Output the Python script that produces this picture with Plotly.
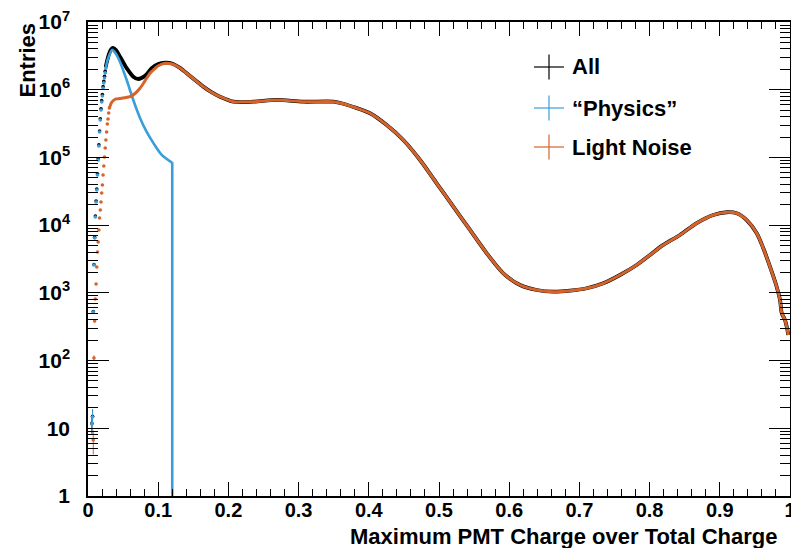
import plotly.graph_objects as go

# ---------------- data ----------------
# Fraction of the total charge carried by the brightest PMT (bin centres, bin width 0.001)

# "Physics": sparse rising edge (individual bins) and the dense body
phys_edge_x = [0.0055, 0.0065, 0.0075, 0.0085, 0.0095, 0.0105, 0.0115, 0.0125, 0.0135, 0.0145,
               0.0155, 0.0165, 0.0175, 0.0185, 0.0195, 0.0205, 0.0215, 0.0225, 0.0235, 0.0245, 0.0255]
phys_edge_y = [11.6, 14.7, 522, 2580, 6460, 13200, 22000, 33000, 55000, 91600,
               147600, 237700, 357500, 502000, 659000, 809000, 1.06e6, 1.26e6, 1.49e6, 1.77e6, 2.10e6]
phys_edge_err = [3.4, 3.8, 22.8, 50.8, 80, 115, 148, 182, 235, 303,
                 384, 488, 598, 708, 812, 899, 1030, 1122, 1221, 1330, 1449]
phys_body_x = [0.0255, 0.0271, 0.0299, 0.0342, 0.0399, 0.0456, 0.0551, 0.0645, 0.0741,
               0.0836, 0.0930, 0.1050, 0.1195]
phys_body_y = [2.10e6, 2.57e6, 3.15e6, 3.87e6, 3.37e6, 2.57e6, 1.39e6, 7.06e5, 3.83e5,
               2.38e5, 1.64e5, 1.09e5, 8.4e4]
# last filled bin, then the histogram is empty above 0.12 (drawn down to the axis floor)
phys_step_x = [0.1195, 0.1200, 0.1200]
phys_step_y = [8.4e4, 8.3e4, 0.1]

# "Light Noise"
noise_edge_x = [0.0075, 0.0085, 0.0095, 0.0105, 0.0115, 0.0125, 0.0135, 0.0145, 0.0155, 0.0165,
                0.0175, 0.0185, 0.0195, 0.0205, 0.0215, 0.0225, 0.0235, 0.0245, 0.0255, 0.0265,
                0.0275, 0.0285, 0.0295, 0.0305]
noise_edge_y = [6.7, 109, 384, 811, 1352, 2410, 4016, 5640, 8490, 12760,
                16750, 21980, 29850, 39170, 55050, 74800, 101600, 138000, 181000, 237700,
                311900, 369600, 453300, 537600]
noise_edge_err = [2.6, 10.4, 19.6, 28.5, 36.8, 49, 63, 75, 92, 113,
                  129, 148, 173, 198, 235, 273, 319, 371, 425, 488,
                  558, 608, 673, 733]
noise_body_x = [0.0305, 0.0342, 0.0399, 0.0456, 0.0520, 0.0598, 0.0670, 0.0741, 0.0812,
                0.0883, 0.0940, 0.0997, 0.1097, 0.1197]
noise_body_y = [5.38e5, 6.6e5, 7.3e5, 7.4e5, 7.6e5, 7.9e5, 8.8e5, 1.05e6, 1.35e6,
                1.75e6, 2.0e6, 2.24e6, 2.46e6, 2.40e6]

# Above 0.12 the "Physics" sample is empty, so All and Light Noise share this tail
tail_x = [0.131, 0.1406, 0.1524, 0.1642, 0.1752, 0.188, 0.207, 0.2355, 0.2688, 0.3067,
          0.3494, 0.3637, 0.378, 0.4017, 0.4255, 0.4491, 0.473, 0.4967, 0.5204, 0.5442,
          0.568, 0.5916, 0.6154, 0.6392, 0.6628, 0.6866, 0.7104, 0.734, 0.7578, 0.7816,
          0.8006, 0.8195, 0.8433, 0.8671, 0.8907, 0.9098, 0.9241, 0.9383, 0.9526, 0.962,
          0.9715, 0.981, 0.9858, 0.9882, 0.9929, 0.9953, 0.9976]
tail_y = [2.10e6, 1.75e6, 1.39e6, 1.11e6, 9.27e5, 7.89e5, 6.65e5, 6.65e5, 7.06e5, 6.65e5,
          6.65e5, 6.2e5, 5.56e5, 4.49e5, 3.01e5, 1.81e5, 9.17e4, 4.15e4, 1.88e4, 8490,
          3837, 1944, 1306, 1102, 1041, 1077, 1169, 1385, 1837, 2580,
          3625, 5100, 7160, 1.07e4, 1.41e4, 1.55e4, 1.50e4, 1.19e4, 7590, 4550,
          2438, 1233, 785, 505, 395, 317, 239]

# "All"
all_edge_x = phys_edge_x
all_edge_y = [11.8, 15.0, 530, 2620, 6600, 13600, 22700, 34200, 57200, 95500,
              153000, 246000, 371000, 522000, 690000, 850000, 1.11e6, 1.33e6, 1.58e6, 1.88e6, 2.22e6]
all_edge_err = [3.4, 3.9, 23, 51, 81, 117, 151, 185, 239, 309,
                391, 496, 609, 722, 831, 922, 1054, 1153, 1257, 1371, 1490]
all_body_x = [0.0255, 0.0271, 0.0299, 0.0328, 0.0356, 0.0399, 0.0456, 0.0551, 0.0645, 0.0717,
              0.0812, 0.0907, 0.1001, 0.1097, 0.1197]
all_body_y = [2.22e6, 2.66e6, 3.37e6, 3.93e6, 4.13e6, 3.86e6, 3.08e6, 2.08e6, 1.56e6, 1.44e6,
              1.60e6, 2.08e6, 2.40e6, 2.51e6, 2.44e6]

series_names = ["All", "\u201cPhysics\u201d", "Light Noise"]
series_colors = ["#000000", "#3a9ed8", "#d5642c"]

x_ticks = [0, 0.1, 0.2, 0.3, 0.4, 0.5, 0.6, 0.7, 0.8, 0.9, 1]
x_ticktext = ["0", "0.1", "0.2", "0.3", "0.4", "0.5", "0.6", "0.7", "0.8", "0.9", "1"]
y_ticks = [1, 10, 1e2, 1e3, 1e4, 1e5, 1e6, 1e7]
y_ticktext = ["1", "10", "10<sup>2</sup>", "10<sup>3</sup>", "10<sup>4</sup>",
              "10<sup>5</sup>", "10<sup>6</sup>", "10<sup>7</sup>"]

# ---------------- figure ----------------
W, H = 791, 548
ML, MR, MT, MB = 88, 1, 22, 52
PW, PH = W - ML - MR, H - MT - MB

def px_x(p):
    return (p - ML) / PW

def px_y(p):
    return (H - MB - p) / PH

FONT = "Liberation Sans, Arial, Helvetica, sans-serif"

fig = go.Figure()

def add_series(edge_x, edge_y, edge_err, body_x, body_y, color, lw):
    fig.add_trace(go.Scatter(x=body_x, y=body_y, mode="lines",
                             line=dict(color=color, width=lw, shape="spline", smoothing=0.8),
                             hoverinfo="skip"))
    fig.add_trace(go.Scatter(x=edge_x, y=edge_y, mode="markers",
                             marker=dict(color=color, size=3.6),
                             error_y=dict(type="data", array=edge_err, color=color,
                                          thickness=1, width=0),
                             hoverinfo="skip"))

add_series(all_edge_x, all_edge_y, all_edge_err, all_body_x + tail_x, all_body_y + tail_y,
           series_colors[0], 3.8)
add_series(phys_edge_x, phys_edge_y, phys_edge_err, phys_body_x, phys_body_y,
           series_colors[1], 2.6)
fig.add_trace(go.Scatter(x=phys_step_x, y=phys_step_y, mode="lines",
                         line=dict(color=series_colors[1], width=2.6), hoverinfo="skip"))
add_series(noise_edge_x, noise_edge_y, noise_edge_err, noise_body_x + tail_x,
           noise_body_y + tail_y, series_colors[2], 3.0)

# legend: cross markers and labels
legend_rows_px = [67, 108, 147]
for name, color, ypx in zip(series_names, series_colors, legend_rows_px):
    fig.add_shape(type="line", xref="paper", yref="paper",
                  x0=px_x(534), x1=px_x(564), y0=px_y(ypx), y1=px_y(ypx),
                  line=dict(color=color, width=1.2))
    fig.add_shape(type="line", xref="paper", yref="paper",
                  x0=px_x(549), x1=px_x(549), y0=px_y(ypx - 12.5), y1=px_y(ypx + 12.5),
                  line=dict(color=color, width=1.2))
    fig.add_annotation(x=px_x(570), y=px_y(ypx), xref="paper", yref="paper",
                       text=name, showarrow=False, xanchor="left", yanchor="middle",
                       font=dict(family=FONT, size=22, color="black", weight="bold"))

# axis titles
fig.add_annotation(x=px_x(779), y=px_y(536), xref="paper", yref="paper",
                   text="Maximum PMT Charge over Total Charge", showarrow=False,
                   xanchor="right", yanchor="middle",
                   font=dict(family=FONT, size=22, color="black", weight="bold"))
fig.add_annotation(x=px_x(27), y=px_y(20), xref="paper", yref="paper",
                   text="Entries", showarrow=False, textangle=-90,
                   xanchor="center", yanchor="top",
                   font=dict(family=FONT, size=22, color="black", weight="bold"))

minor_log = [m * 10 ** k for k in range(0, 7) for m in range(2, 10)]

fig.update_xaxes(range=[0, 1], tickmode="array", tickvals=x_ticks, ticktext=x_ticktext,
                 ticks="inside", ticklen=14, tickwidth=1, tickcolor="black",
                 minor=dict(ticks="inside", dtick=0.02, tick0=0, ticklen=7,
                            tickwidth=1, tickcolor="black"),
                 showline=True, linecolor="black", linewidth=1.5, mirror="allticks",
                 showgrid=False, zeroline=False, ticklabelstandoff=-5,
                 ticklabeloverflow="allow",
                 tickfont=dict(family=FONT, size=20, color="black", weight="bold"))
fig.update_yaxes(type="log", range=[0, 7], tickmode="array", tickvals=y_ticks,
                 ticktext=y_ticktext, ticks="inside", ticklen=21, tickwidth=1,
                 tickcolor="black",
                 minor=dict(ticks="inside", tickmode="array", tickvals=minor_log,
                            ticklen=10, tickwidth=1, tickcolor="black"),
                 showline=True, linecolor="black", linewidth=1.5, mirror="allticks",
                 showgrid=False, zeroline=False, ticklabelstandoff=12,
                 ticklabeloverflow="allow",
                 tickfont=dict(family=FONT, size=21, color="black", weight="bold"))

fig.update_layout(width=W, height=H, showlegend=False,
                  margin=dict(l=ML, r=MR, t=MT, b=MB, autoexpand=False),
                  paper_bgcolor="white", plot_bgcolor="white")

fig.write_html("out.html")
